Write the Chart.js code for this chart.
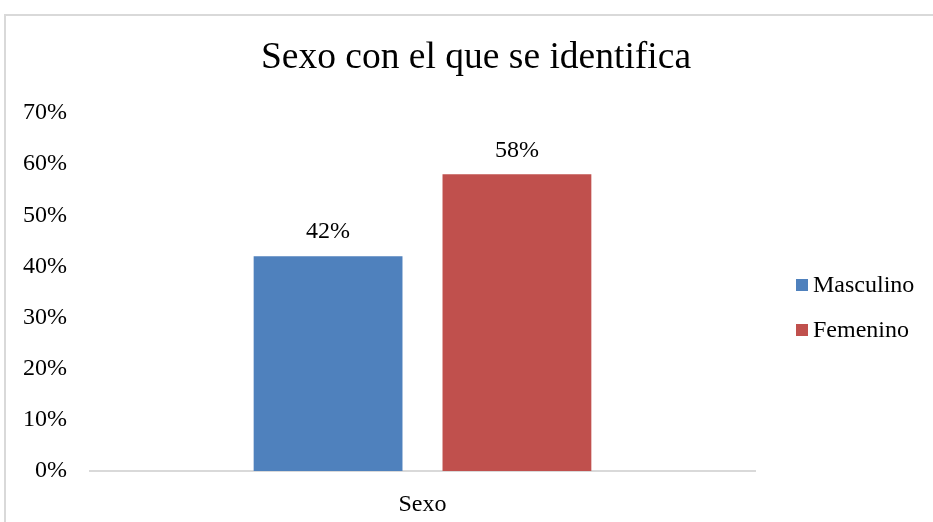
<!DOCTYPE html>
<html>
<head>
<meta charset="utf-8">
<script src="https://cdn.jsdelivr.net/npm/chart.js@4"></script>
<style>
  html, body { margin: 0; padding: 0; background: #fff; overflow: hidden; }
  #wrap { position: relative; width: 933px; height: 522px; }
  #frame { position: absolute; left: 4px; top: 14px; width: 1000px; height: 1000px;
           border: 2px solid #d9d9d9; box-sizing: border-box; }
  #chart { position: absolute; left: 0; top: 0; }
</style>
</head>
<body>
<div id="wrap">
  <div id="frame"></div>
  <canvas id="chart" width="933" height="522"></canvas>
</div>
<script>
// ====== データ ======
const CATEGORIES = ["Sexo"];
const SERIES_NAMES = ["Masculino", "Femenino"];
const SERIES_VALUES = [[42], [58]];
const SERIES_COLORS = ["#4F81BD", "#C0504D"];
const Y_MAX = 70;
const Y_STEP = 10;

const FONT = "'Liberation Serif', 'Times New Roman', serif";
const TEXT_SIZE = 24;

// 棒の上の値ラベル
const valueLabels = {
  id: "valueLabels",
  afterDatasetsDraw(chart) {
    const ctx = chart.ctx;
    ctx.save();
    ctx.font = TEXT_SIZE + "px " + FONT;
    ctx.fillStyle = "#000";
    ctx.textAlign = "center";
    ctx.textBaseline = "middle";
    chart.data.datasets.forEach((ds, i) => {
      chart.getDatasetMeta(i).data.forEach((bar, j) => {
        ctx.fillText(ds.data[j] + "%", bar.x, bar.y - 24);
      });
    });
    ctx.restore();
  }
};

// 右側の凡例
const sideLegend = {
  id: "sideLegend",
  afterDraw(chart) {
    const ctx = chart.ctx;
    ctx.save();
    ctx.font = TEXT_SIZE + "px " + FONT;
    ctx.textAlign = "left";
    ctx.textBaseline = "middle";
    chart.data.datasets.forEach((ds, i) => {
      const y = 285 + i * 45;
      ctx.fillStyle = ds.backgroundColor;
      ctx.fillRect(796, y - 6, 12, 12);
      ctx.fillStyle = "#000";
      ctx.fillText(ds.label, 813, y + 1);
    });
    ctx.restore();
  }
};

const datasets = SERIES_NAMES.map((name, i) => ({
  label: name,
  data: SERIES_VALUES[i],
  backgroundColor: SERIES_COLORS[i],
  categoryPercentage: 0.568,
  barPercentage: 0.788
}));

new Chart(document.getElementById("chart"), {
  type: "bar",
  data: { labels: CATEGORIES, datasets: datasets },
  options: {
    responsive: false,
    animation: false,
    layout: { padding: { left: 19, right: 0, top: 0, bottom: 0 } },
    plugins: {
      legend: { display: false },
      tooltip: { enabled: false },
      title: {
        display: true,
        text: "Sexo con el que se identifica",
        color: "#000",
        font: { family: FONT, size: 37.5, weight: "normal" },
        padding: { top: 36, bottom: 32 }
      }
    },
    scales: {
      x: {
        grid: { display: false },
        border: { display: true, color: "#d9d9d9", width: 2 },
        ticks: { color: "#000", font: { family: FONT, size: TEXT_SIZE }, padding: 11 },
        afterFit(scale) { scale.height = 51; }
      },
      y: {
        min: 0,
        max: Y_MAX,
        grid: { display: false, drawTicks: false },
        border: { display: false },
        ticks: {
          stepSize: Y_STEP,
          color: "#000",
          font: { family: FONT, size: TEXT_SIZE },
          padding: 23,
          callback: v => v + "%"
        },
        afterFit(scale) { scale.width = 71; }
      },
      // 凡例用の右側スペース
      yRight: {
        position: "right",
        min: 0,
        max: Y_MAX,
        grid: { display: false, drawTicks: false },
        border: { display: false },
        ticks: { display: false },
        afterFit(scale) { scale.width = 178; }
      }
    }
  },
  plugins: [valueLabels, sideLegend]
});
</script>
</body>
</html>
